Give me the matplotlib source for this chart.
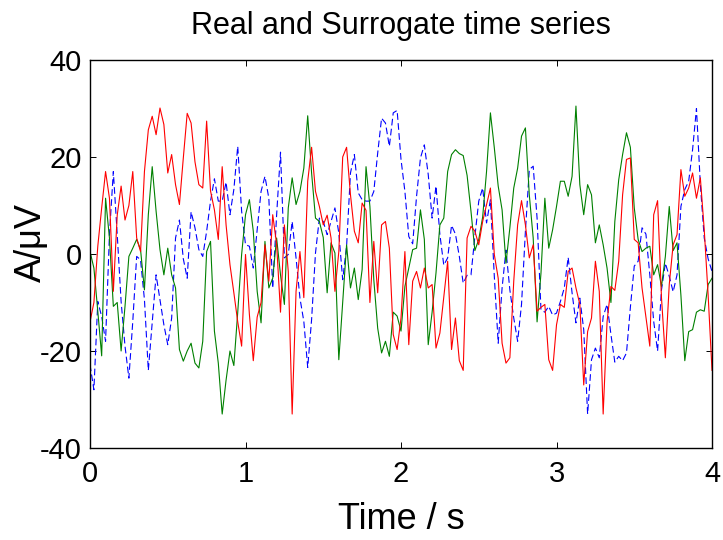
import numpy as np
import matplotlib
matplotlib.use("Agg")
import matplotlib.pyplot as plt

plt.rcParams['font.family'] = ['Liberation Sans', 'DejaVu Sans']
plt.rcParams['axes.unicode_minus'] = False

# time axis (s), one sample every 25 ms
t = np.linspace(0, 4, 161)

# amplitude in microvolts (8 samples per row = 0.2 s)
real_red = [
    -14, -10, 1.6, 9.5, 17, 11.5, -7.7, 8,
    14, 7, 10, 17, 3.3, 0.5, 17, 25.6,
    28.4, 24.6, 30.1, 26.7, 16.7, 20.5, 14.3, 10.2,
    19.8, 29, 27, 19, 14.3, 13.6, 27.4, 13,
    9.1, 3, 18, 6, -2.2, -8, -14, -19,
    -0.1, -12.5, -22, -13, -10, 1.9, -5.6, 8.1,
    2, -12, 6, -3.6, -33, -7.7, 0.5, -9,
    15, 22, 12.9, 9.8, 6, 8, 3.3, -7.7,
    0.5, 20, 22, 12.2, 4.7, 2.3, 10.5, 9,
    -10, 2.6, -8, 6, 6.7, 1.2, -16.6, -19.7,
    -13.2, 0.5, -18.7, -5.6, -3.6, -7, -2.9, -7,
    -6.3, -19.4, -16.3, -9, -1.5, -19.7, -13.2, -22,
    -24, 3.3, 5.7, 4.7, 1.9, 6.7, 10.2, 13.6,
    -0.1, -5, -18.4, -22.5, -21.4, -5.6, 6, 11,
    6, -0.8, 1.9, -11.8, -11, -10.4, -21.8, -24,
    -14.6, -10.4, -11, -3.6, -2.9, -7, -10.4, -27,
    -16, -13.2, -1.5, -7.7, -33, -14, -6.7, -7.5,
    -1.5, 12.2, 19.5, 19.8, 3, 2.3, -7, -13,
    -19, 8.1, 11, -9, -21.4, -6.3, 1.9, 4,
    17.4, 11.9, 13.6, 16.7, 11.5, 15.7, 5, -8.4,
    -24,
]

surr_green = [
    0.5, -2.9, -11.8, -21, 11.5, 3.3, -10.8, -10,
    -20, -10.8, -0.5, 1.2, 3, 0.9, -7.4, 8.1,
    18, 8.8, 0.9, -4.3, 1.2, -4.3, -7, -19.7,
    -22.1, -20, -18.4, -22.5, -23.5, -18, 0.5, 2.6,
    -15.9, -22.5, -33, -26, -20, -23, -12, -0.1,
    8.1, 11.2, 4.7, -7.7, -14.2, 2.6, -7, -5,
    3.3, -4.3, -10.4, 9.5, 15.7, 10.2, 12.9, 17.7,
    28.5, 16.7, 7.4, 6.7, 3.4, -8, 2.3, 0.2,
    -21.8, -9.8, 1.9, -7, -2.9, -9.4, -3.2, 18,
    9.8, -5.3, -15.3, -20.4, -18, -21.1, -12, -12.8,
    -15.9, -6.7, -2.9, 0.9, 1.2, 9.1, 3, -18.7,
    -12, -3.9, 6, 7.4, 17, 20.5, 21.5, 20.7,
    20.3, 16.2, 8.8, 0.7, 3, 7.6, 17, 29.1,
    21.9, 14, 9.1, -1.9, 5.4, 13.6, 17.7, 24.3,
    26, 12.2, 3.3, -14, -4, 11.5, 1.2, 5,
    9.8, 15, 15, 11.9, 16, 30.5, 14.3, 8.1,
    14.3, 12.2, 2.3, 6, 1.9, -2.9, -10, 6.7,
    15.3, 20.5, 25, 22, 9.5, 3, 0.5, 1.2,
    1.6, -4.3, -2.2, -6.7, -0.5, 9.8, 0.7, 2.3,
    -8.5, -22, -16, -15.6, -12, -11.5, -11.8, -6.3,
    -5,
]

surr_blue = [
    -22.8, -28, -9.8, -12.9, -18, 4, 17, 4,
    -9.8, -19, -25.6, -13.9, -0.5, -1.2, -9.4, -24,
    -14.2, -4.3, -9.4, -14.6, -18.7, -13.2, 3.3, 7,
    -1, -5, 8.7, 5.4, 0.9, -0.5, 4.7, 10.9,
    15.5, 10.9, 10.9, 14.8, 8.1, 13.3, 22.2, 8.8,
    1.9, 1.6, -2.9, 5, 12.9, 16, 11.5, -7,
    8, 21, -0.8, -0.1, 6.7, -0.8, -9.1, -13.9,
    -23.4, -13.5, 0.2, 7.4, 6.7, 4, 6.7, 9.5,
    4.3, -5.3, 1.6, 16.7, 20.5, 12.6, 11.2, 10.9,
    10.9, 12.9, 20.8, 28, 27, 22.2, 29.1, 29.6,
    19.5, 12.9, 3.6, 2.1, 11.9, 19.8, 22.5, 16.4,
    7.4, 14, 4, -2.3, -0.8, 5.9, 4.1, -0.5,
    -6, -4.4, -4.3, 3.6, 10.9, 13.6, 6.4, 11.2,
    -4.6, -18.4, -7, 0.8, -7.4, -13.2, -18, -10.4,
    4.7, 17.4, 18.1, 7.4, -11.5, -12, -10.8, -12.6,
    -12.2, -9.8, -7, -0.7, -8, -14.2, -9.1, -15.6,
    -33, -21.8, -19.4, -21.4, -12.9, -10.4, -16.6, -22.3,
    -21.1, -22, -20.4, -11, -2.5, -1.5, 5.4, 4.1,
    -4.3, -13.9, -20, -7.4, -1.9, -4.6, -7.8, -4.3,
    9.8, 13.3, 15, 21.5, 30, 14.3, 3.3, -1,
    -3.6,
]

xticks = [0, 1, 2, 3, 4]
yticks = [-40, -20, 0, 20, 40]

fig = plt.figure(figsize=(7.23, 5.4), dpi=100)
ax = fig.add_axes([0.1245, 0.1704, 0.8603, 0.7185])

ax.plot(t, surr_blue, color="blue", linestyle=(0, (6, 3)), linewidth=0.8)
ax.plot(t, surr_green, color="green", linewidth=0.8)
ax.plot(t, real_red, color="red", linewidth=0.8)

ax.set_xlim(0, 4)
ax.set_ylim(-40, 40)
ax.set_xticks(xticks)
ax.set_yticks(yticks)
ax.tick_params(direction="in", length=4, width=0.7, top=True, right=True, labelsize=21)
ax.tick_params(axis="x", pad=8.5)
ax.tick_params(axis="y", pad=6)
for s in ax.spines.values():
    s.set_linewidth(1.0)

ax.set_title("Real and Surrogate time series", fontsize=22, pad=19)
ax.set_xlabel("Time / s", fontsize=26, labelpad=10)
ax.set_ylabel("A/\u03bcV", fontsize=26)
ax.yaxis.set_label_coords(-0.066, 0.53)

fig.savefig("out.png", dpi=100)
